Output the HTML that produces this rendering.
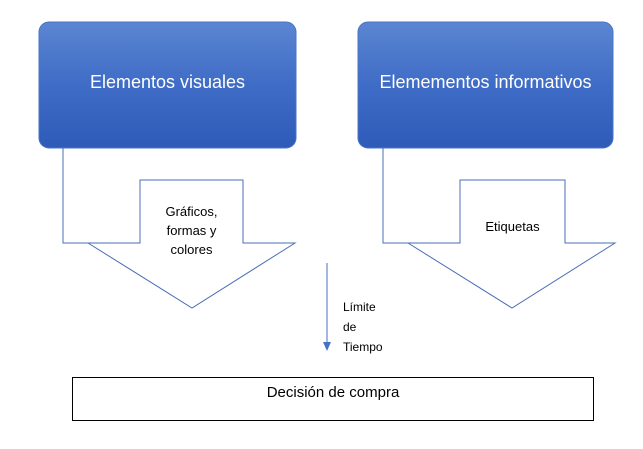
<!DOCTYPE html>
<html><head><style>
body{margin:0;width:643px;height:449px;background:#fff;overflow:hidden;position:relative;font-family:"Liberation Sans",sans-serif}
.t{position:absolute;font-family:"Liberation Sans",sans-serif}
</style></head><body>
<svg width="643" height="449" style="position:absolute;left:0;top:0">
<defs>
<linearGradient id="g" x1="0" y1="0" x2="0" y2="1">
<stop offset="0" stop-color="#5b86d2"/><stop offset="0.5" stop-color="#3f6cc6"/><stop offset="1" stop-color="#2e5bb8"/>
</linearGradient>
</defs>
<rect x="39" y="22" width="257" height="126" rx="10" fill="url(#g)" stroke="#4a74c4"/>
<rect x="358" y="22" width="255" height="126" rx="10" fill="url(#g)" stroke="#4a74c4"/>
<g fill="none" stroke="#4a6fb5" stroke-width="1">
<polyline points="63,148 63,243 140,243 140,180 243,180 243,243 295,243 192,308 88,243"/>
<polyline points="383,148 383,243 460,243 460,180 565,180 565,243 615,243 512,308 408,243"/>
<line x1="327" y1="263" x2="327" y2="343" stroke="#4472c4"/>
</g>
<polygon points="323,342 331,342 327,351" fill="#4472c4"/>
<rect x="72.5" y="377.5" width="521" height="43" fill="none" stroke="#000"/>
</svg>
<div class="t" style="left:39px;top:72px;width:257px;text-align:center;color:#fff;font-size:18px">Elementos visuales</div>
<div class="t" style="left:358px;top:72px;width:255px;text-align:center;color:#fff;font-size:18px">Elemementos informativos</div>
<div class="t" style="left:140px;top:202px;width:103px;text-align:center;font-size:13px;line-height:19px">Gráficos,<br>formas y<br>colores</div>
<div class="t" style="left:460px;top:219px;width:105px;text-align:center;font-size:13px">Etiquetas</div>
<div class="t" style="left:343px;top:297px;font-size:12px;line-height:20px">Límite<br>de<br>Tiempo</div>
<div class="t" style="left:72px;top:384px;width:522px;text-align:center;font-size:15px">Decisión de compra</div>
</body></html>
